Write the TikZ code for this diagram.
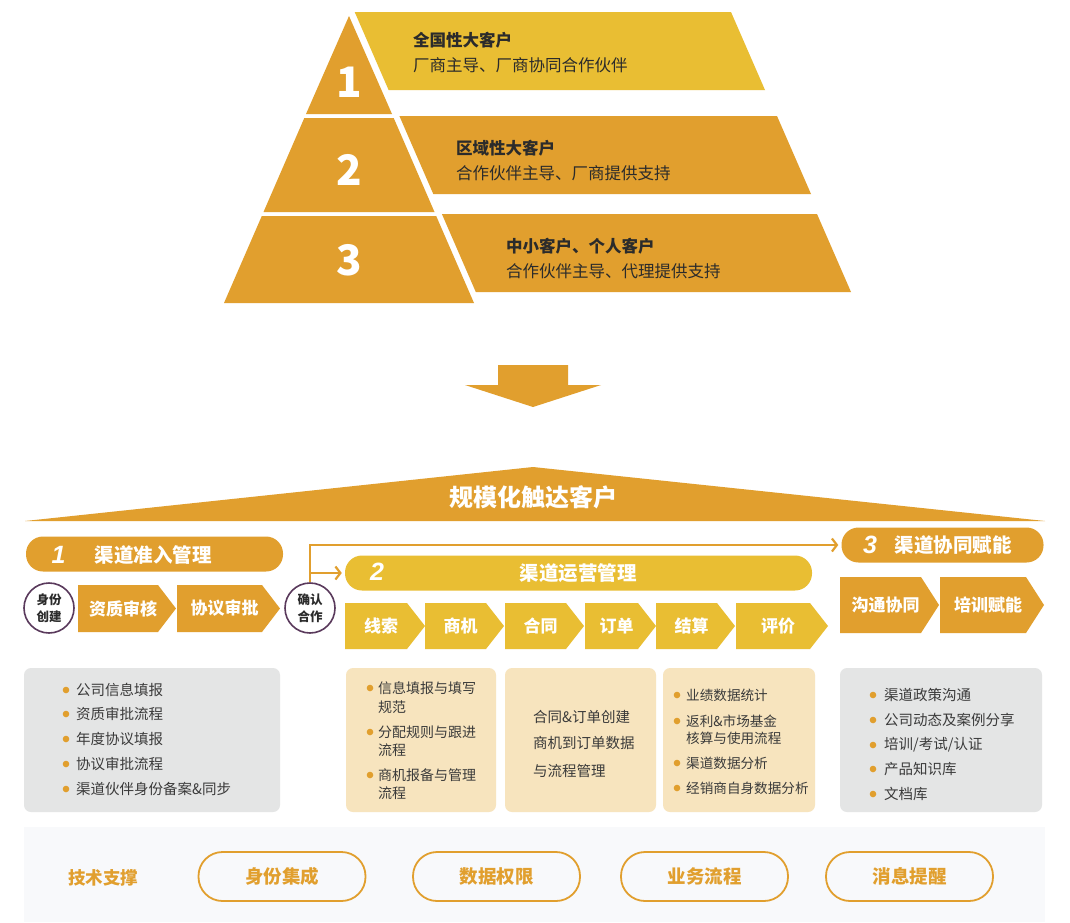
\documentclass[tikz,border=0pt]{standalone}
\usepackage{fontspec}
\setmainfont{Noto Sans CJK SC}
\newfontfamily\numfont{Liberation Sans}
\usetikzlibrary{arrows.meta}
\definecolor{org}{HTML}{E19F2E}
\definecolor{ylw}{HTML}{E9BE33}
\definecolor{txt}{HTML}{2B2B2B}
\definecolor{gtxt}{HTML}{3A3A3A}
\definecolor{grayb}{HTML}{E4E5E5}
\definecolor{beige}{HTML}{F7E4BE}
\definecolor{band}{HTML}{F8F9FB}
\definecolor{purp}{HTML}{5A3A5C}
\newcommand\fs[1]{\fontsize{#1}{#1}\selectfont}
\newcommand\chev[7]{%
  \fill[#6] (#2,#4) -- ({#3-18},#4) -- (#3,{(#4+#5)/2}) -- ({#3-18},#5) -- (#2,#5) -- cycle;
  \node[chevtext] (#1) at ({(#2+#3)/2-4},{(#4+#5)/2}) {#7};
}
\newcommand\bitem[5]{% name, bullet x, text x, y, text
  \fill[org] (#2,#4) circle (3.3);
  \node[boxtxt] (#1) at (#3,#4) {#5};
}
\tikzset{
  chevtext/.style={font=\fs{17}\bfseries, text=white, inner sep=0},
  boxtxt/.style={font=\fs{14.5}, text=gtxt, anchor=west, inner sep=0},
  tierhead/.style={font=\fs{16.5}\bfseries, text=txt, anchor=west, inner sep=0},
  tiersub/.style={font=\fs{16.5}, text=txt, anchor=west, inner sep=0},
  tiernum/.style={font=\fs{42}\bfseries, text=white, inner sep=0},
  pillnum/.style={font=\numfont\fs{25}\bfseries\itshape, text=white, inner sep=0},
  pilltxt/.style={font=\fs{19.5}\bfseries, text=white, inner sep=0},
  pill/.style={rounded corners=17, minimum height=35, inner sep=0},
  roundbox/.style={rounded corners=7, inner sep=0},
  ring/.style={circle, draw=purp, line width=1.6, fill=white, minimum size=50, inner sep=0, align=center, font=\fontsize{12.5}{17}\selectfont\bfseries, text=txt},
  conn/.style={draw=org, line width=2.2, -{Straight Barb[length=5,width=13]}, shorten >=3},
  techpill/.style={draw=org, line width=1.8, rounded corners=24, minimum width=167, minimum height=49, font=\fs{18.5}\bfseries, text=org, inner sep=0},
}
\begin{document}
\begin{tikzpicture}[x=1pt,y=-1pt]
\useasboundingbox (0,0) rectangle (1070,922);
\fill[white] (0,0) rectangle (1070,922);

% ---------- pyramid ----------
\fill[org] (349,16) -- (306,114) -- (392,114) -- cycle;
\fill[org] (304.3,118) -- (393.7,118) -- (434.5,212) -- (263.5,212) -- cycle;
\fill[org] (261.8,216) -- (436.2,216) -- (474,303) -- (224,303) -- cycle;
\fill[ylw] (354.7,12) -- (731,12) -- (765,90) -- (388.6,90) -- cycle;
\fill[org] (399.4,116) -- (777,116) -- (811,194) -- (433.3,194) -- cycle;
\fill[org] (441.9,214) -- (817,214) -- (851,292) -- (475.8,292) -- cycle;
\node[tiernum] (n1) at (349,82) {1};
\node[tiernum] (n2) at (349,170) {2};
\node[tiernum] (n3) at (349,260) {3};
\node[tierhead] (t1h) at (413,40) {全国性大客户};
\node[tiersub] (t1s) at (413,65) {厂商主导、厂商协同合作伙伴};
\node[tierhead] (t2h) at (456,148) {区域性大客户};
\node[tiersub] (t2s) at (456,173) {合作伙伴主导、厂商提供支持};
\node[tierhead] (t3h) at (506,246) {中小客户、个人客户};
\node[tiersub] (t3s) at (506,271) {合作伙伴主导、代理提供支持};

% ---------- down arrow ----------
\fill[org] (498,365) -- (568,365) -- (568,385) -- (601,385) -- (533,407) -- (465,385) -- (498,385) -- cycle;

% ---------- wedge ----------
\fill[org] (25,521) -- (533,467) -- (1045,521) -- cycle;
\node[font=\fs{24}\bfseries, text=white, inner sep=0] (title) at (533,497) {规模化触达客户};

% ---------- section 1 ----------
\node[pill, fill=org, minimum width=257] (p1) at (154.5,554) {};
\node[pillnum] (p1n) at (58.5,555) {1};
\node[pilltxt] (p1t) at (153,555) {渠道准入管理};
\node[ring] (c1) at (49,608) {身份\\创建};
\chev{s1a}{78}{176}{585}{632}{org}{资质审核}
\chev{s1b}{177}{280}{585}{632}{org}{协议审批}
\node[ring] (c2) at (310,608) {确认\\合作};

% ---------- section 2 ----------
\node[pill, fill=ylw, minimum width=467] (p2) at (578.5,573) {};
\node[pillnum] (p2n) at (377,572) {2};
\node[pilltxt] (p2t) at (578,573) {渠道运营管理};
\chev{s2a}{345}{425}{603}{649}{ylw}{线索}
\chev{s2b}{425}{504}{603}{649}{ylw}{商机}
\chev{s2c}{505}{584}{603}{649}{ylw}{合同}
\chev{s2d}{585}{656}{603}{649}{ylw}{订单}
\chev{s2e}{656}{735}{603}{649}{ylw}{结算}
\chev{s2f}{736}{828}{603}{649}{ylw}{评价}

% ---------- section 3 ----------
\node[pill, fill=org, minimum width=202] (p3) at (942.5,545) {};
\node[pillnum] (p3n) at (870,545) {3};
\node[pilltxt] (p3t) at (953,545) {渠道协同赋能};
\chev{s3a}{840}{939}{577}{633}{org}{沟通协同}
\chev{s3b}{940}{1044}{577}{633}{org}{培训赋能}

% ---------- connectors ----------
\draw[conn] (c2.north) -- (c2.north |- p3.west) -- (p3.west);
\draw[conn] (c2.north |- p2.west) -- (p2.west);

% ---------- detail boxes ----------
\fill[grayb, roundbox] (24,668) rectangle (280,812);
\fill[beige, roundbox] (346,668) rectangle (496,812);
\fill[beige, roundbox] (505,668) rectangle (656,812);
\fill[beige, roundbox] (663,668) rectangle (815,812);
\fill[grayb, roundbox] (840,668) rectangle (1042,812);

\bitem{a1}{66}{76}{690}{公司信息填报}
\bitem{a2}{66}{76}{714}{资质审批流程}
\bitem{a3}{66}{76}{739}{年度协议填报}
\bitem{a4}{66}{76}{764}{协议审批流程}
\bitem{a5}{66}{76}{789}{渠道伙伴身份备案\&同步}

\begin{scope}[boxtxt/.append style={font=\fs{14}}]
\bitem{b1}{370}{378}{688}{信息填报与填写}
\node[boxtxt] (b1b) at (378,707) {规范};
\bitem{b2}{370}{378}{732}{分配规则与跟进}
\node[boxtxt] (b2b) at (378,750) {流程};
\bitem{b3}{370}{378}{775}{商机报备与管理}
\node[boxtxt] (b3b) at (378,793) {流程};
\end{scope}

\node[boxtxt] (c1t) at (533,717) {合同\&订单创建};
\node[boxtxt] (c2t) at (533,743) {商机到订单数据};
\node[boxtxt] (c3t) at (533,771) {与流程管理};

\begin{scope}[boxtxt/.append style={font=\fs{13.6}}]
\bitem{d1}{677}{686}{695}{业绩数据统计}
\bitem{d2}{677}{686}{721}{返利\&市场基金}
\node[boxtxt] (d2b) at (686,738) {核算与使用流程};
\bitem{d3}{677}{686}{763}{渠道数据分析}
\bitem{d4}{677}{686}{788}{经销商自身数据分析}
\end{scope}

\bitem{e1}{873}{884}{695}{渠道政策沟通}
\bitem{e2}{873}{884}{720}{公司动态及案例分享}
\bitem{e3}{873}{884}{745}{培训/考试/认证}
\bitem{e4}{873}{884}{769}{产品知识库}
\bitem{e5}{873}{884}{794}{文档库}

% ---------- tech support band ----------
\fill[band] (24,827) rectangle (1045,922);
\node[font=\fs{17.5}\bfseries, text=org, inner sep=0] (tech) at (103,878) {技术支撑};
\node[techpill] (k1) at (282,876.5) {身份集成};
\node[techpill] (k2) at (496.5,876.5) {数据权限};
\node[techpill] (k3) at (704.5,876.5) {业务流程};
\node[techpill] (k4) at (909.5,876.5) {消息提醒};
\end{tikzpicture}
\end{document}
